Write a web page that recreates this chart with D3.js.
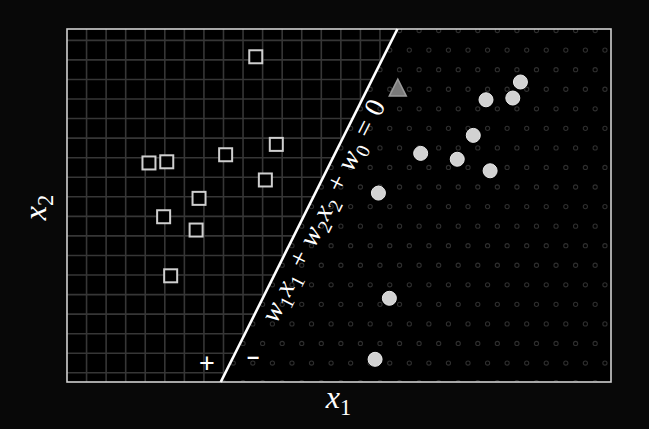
<!DOCTYPE html>
<html>
<head>
<meta charset="utf-8">
<script src="https://cdn.jsdelivr.net/npm/d3@7"></script>
<style>
  html, body { margin: 0; padding: 0; background: #080808; }
  svg { display: block; }
  text { white-space: pre; }
</style>
</head>
<body>
<script>
// ---------- data (grid units) ----------
const classPlus = [ // hollow squares
  [8.65, 16.16], [9.70, 11.68], [3.19, 10.73], [4.10, 10.79], [7.11, 11.15],
  [9.14, 9.86], [5.75, 8.92], [3.94, 7.98], [5.60, 7.30], [4.30, 4.96]
];
const classMinus = [ // filled circles
  [22.18, 14.87], [20.42, 13.96], [21.79, 14.05], [19.77, 12.14], [17.08, 11.22],
  [18.95, 10.92], [20.63, 10.33], [14.92, 9.19], [15.48, 3.81], [14.75, 0.69]
];
const queryPoint = [[15.91, 14.56]]; // triangle
const boundary = [[6.86, -0.47], [15.89, 17.58]];
const xDomain = [-1, 26.81];
const yDomain = [-0.47, 17.58];
const gridX = d3.range(0, 27);
const gridY = d3.range(0, 18);
const equation = [
  {t: "w", i: 1}, {t: "1", s: 1}, {t: "x", i: 1}, {t: "1", s: 1}, {t: " + "},
  {t: "w", i: 1}, {t: "2", s: 1}, {t: "x", i: 1}, {t: "2", s: 1}, {t: " + "},
  {t: "w", i: 1}, {t: "0", s: 1}, {t: " = "}, {t: "0"}
];
const xLabel = [{t: "x", i: 1}, {t: "1", s: 1}];
const yLabel = [{t: "x", i: 1}, {t: "2", s: 1}];

// ---------- layout ----------
const W = 649, H = 429;
const L = 67, T = 29, R = 611, B = 382;
const x = d3.scaleLinear().domain(xDomain).range([L, R]);
const y = d3.scaleLinear().domain(yDomain).range([B, T]);
const FONT = "'Liberation Serif', 'DejaVu Serif', serif";

const svg = d3.select("body").append("svg").attr("width", W).attr("height", H);
svg.append("rect").attr("x", L).attr("y", T).attr("width", R - L).attr("height", B - T).attr("fill", "#000");

const p0 = [x(boundary[0][0]), y(boundary[0][1])];
const p1 = [x(boundary[1][0]), y(boundary[1][1])];
const defs = svg.append("defs");
defs.append("clipPath").attr("id", "leftClip").append("polygon")
  .attr("points", [[L, T], [p1[0], T], [p0[0], B], [L, B]].map(d => d.join(",")).join(" "));
defs.append("clipPath").attr("id", "rightClip").append("polygon")
  .attr("points", [[p1[0], T], [R, T], [R, B], [p0[0], B]].map(d => d.join(",")).join(" "));

// grid on + side
const gL = svg.append("g").attr("clip-path", "url(#leftClip)");
gL.selectAll("line.v").data(gridX).join("line")
  .attr("x1", d => x(d)).attr("x2", d => x(d)).attr("y1", T).attr("y2", B)
  .attr("stroke", "#363636").attr("stroke-width", 1.6);
gL.selectAll("line.h").data(gridY).join("line")
  .attr("y1", d => y(d)).attr("y2", d => y(d)).attr("x1", L).attr("x2", R)
  .attr("stroke", "#363636").attr("stroke-width", 1.6);

// dots on - side
const dots = [];
for (let k = -1; k <= 17; k++) {
  const off = (Math.abs(k) % 2 === 1) ? 0 : 0.5;
  for (let c = -1; c <= 27; c++) {
    const cx = c + off;
    if (cx > xDomain[0] && cx < xDomain[1]) dots.push([cx, k + 0.5]);
  }
}
const gR = svg.append("g").attr("clip-path", "url(#rightClip)");
gR.selectAll("circle").data(dots).join("circle")
  .attr("cx", d => x(d[0])).attr("cy", d => y(d[1])).attr("r", 2.1)
  .attr("fill", "none").attr("stroke", "#2e2e2e").attr("stroke-width", 1.1);

// frame
svg.append("rect").attr("x", L).attr("y", T).attr("width", R - L).attr("height", B - T)
  .attr("fill", "none").attr("stroke", "#d0d0d0").attr("stroke-width", 1.6);

// boundary line
svg.append("line").attr("x1", p0[0]).attr("y1", p0[1]).attr("x2", p1[0]).attr("y2", p1[1])
  .attr("stroke", "#fff").attr("stroke-width", 2.6);

// markers
const sq = 13;
svg.selectAll("rect.sq").data(classPlus).join("rect").attr("class", "sq")
  .attr("x", d => x(d[0]) - sq / 2).attr("y", d => y(d[1]) - sq / 2)
  .attr("width", sq).attr("height", sq)
  .attr("fill", "#000").attr("stroke", "#cfcfcf").attr("stroke-width", 2);
svg.selectAll("circle.pt").data(classMinus).join("circle").attr("class", "pt")
  .attr("cx", d => x(d[0])).attr("cy", d => y(d[1])).attr("r", 7)
  .attr("fill", "#d2d2d2").attr("stroke", "#e8e8e8").attr("stroke-width", 1);
svg.selectAll("path.tri").data(queryPoint).join("path").attr("class", "tri")
  .attr("d", d => {
    const cx = x(d[0]), cy = y(d[1]);
    return `M${cx},${cy - 9} L${cx + 8.5},${cy + 8} L${cx - 8.5},${cy + 8} Z`;
  })
  .attr("fill", "#7a7a7a").attr("stroke", "#9a9a9a").attr("stroke-width", 1.5);

// math text helper
function mathText(sel, parts, fs) {
  const sh = fs * 0.22;
  let inSub = false;
  parts.forEach(p => {
    const ts = sel.append("tspan").text(p.t);
    if (p.i) ts.attr("font-style", "italic");
    if (p.s) {
      ts.attr("font-size", fs * 0.7);
      if (!inSub) ts.attr("dy", sh);
      inSub = true;
    } else {
      if (inSub) ts.attr("dy", -sh);
      inSub = false;
    }
  });
}

// equation along the boundary
const ang = Math.atan2(p1[1] - p0[1], p1[0] - p0[0]);
const ux = Math.cos(ang), uy = Math.sin(ang);
const nx = -uy, ny = ux;
const mx = (p0[0] + p1[0]) / 2, my = (p0[1] + p1[1]) / 2;
const dOff = 24;
const eqFs = 28;
const eq = svg.append("text")
  .attr("transform", `translate(${mx + nx * dOff + ux * 2},${my + ny * dOff + uy * 2}) rotate(${ang * 180 / Math.PI})`)
  .attr("text-anchor", "middle").attr("font-family", FONT).attr("font-size", eqFs)
  .attr("letter-spacing", 0.6).attr("fill", "#fff");
mathText(eq, equation, eqFs);

// + and - signs
svg.append("text").attr("x", 207).attr("y", 372).attr("text-anchor", "middle")
  .attr("font-family", "'Liberation Sans', sans-serif").attr("font-size", 27).attr("fill", "#fff").text("+");
svg.append("text").attr("x", 253).attr("y", 364).attr("text-anchor", "middle")
  .attr("font-family", "'Liberation Sans', sans-serif").attr("font-weight", "bold")
  .attr("font-size", 22).attr("fill", "#fff").text("\u2013");

// axis labels
const labFs = 32;
const xl = svg.append("text").attr("x", (L + R) / 2 - 0.5).attr("y", 408).attr("text-anchor", "middle")
  .attr("font-family", FONT).attr("font-size", labFs).attr("fill", "#fff");
mathText(xl, xLabel, labFs);
const yl = svg.append("text").attr("transform", `translate(46,${(T + B) / 2 + 2}) rotate(-90)`)
  .attr("text-anchor", "middle").attr("font-family", FONT).attr("font-size", labFs).attr("fill", "#fff");
mathText(yl, yLabel, labFs);
</script>
</body>
</html>
